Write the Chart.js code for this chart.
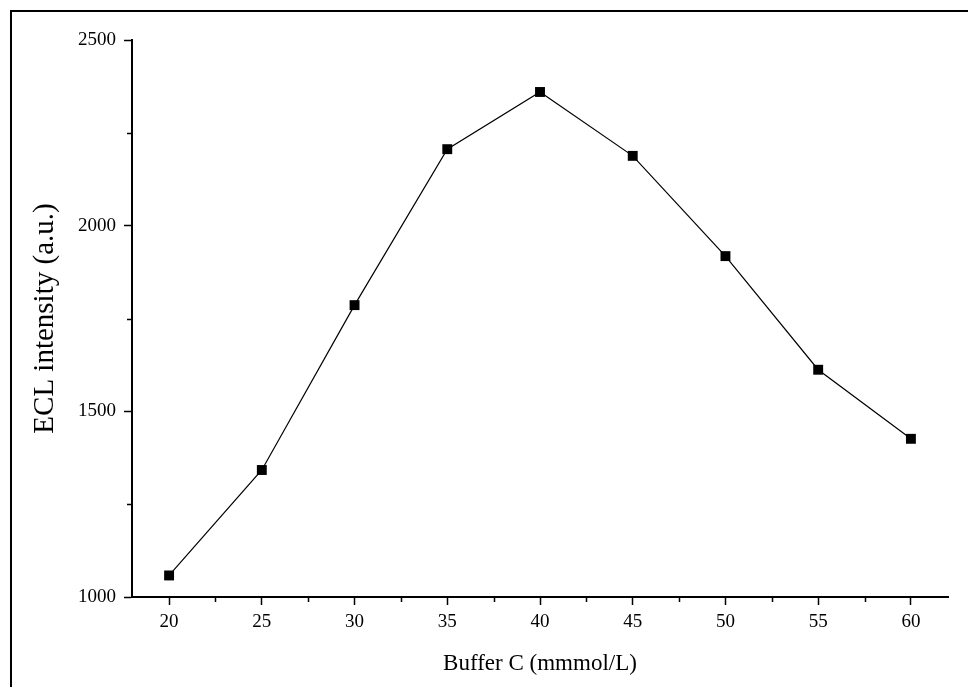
<!DOCTYPE html>
<html>
<head>
<meta charset="utf-8">
<script src="https://cdn.jsdelivr.net/npm/chart.js@4.4.1/dist/chart.umd.min.js"></script>
<style>
  html, body { margin: 0; padding: 0; background: #fff; }
  #wrap { width: 968px; height: 687px; position: relative; }
</style>
</head>
<body>
<div id="wrap"><canvas id="c" width="968" height="687"></canvas></div>
<script>
// Data
const bufferC = [20, 25, 30, 35, 40, 45, 50, 55, 60];
const eclIntensity = [1058, 1342, 1786, 2206, 2360, 2188, 1918, 1612, 1426];
const xTickValues = [20, 25, 30, 35, 40, 45, 50, 55, 60];
const xMinorValues = [22.5, 27.5, 32.5, 37.5, 42.5, 47.5, 52.5, 57.5];
const yTickValues = [1000, 1500, 2000, 2500];
const yMinorValues = [1250, 1750, 2250];
const xTitle = 'Buffer C (mmmol/L)';
const yTitle = 'ECL intensity (a.u.)';

const serif = "'Liberation Serif', 'Times New Roman', serif";

const frameAndMinor = {
  id: 'frameAndMinor',
  afterDraw(chart) {
    const ctx = chart.ctx;
    ctx.save();
    ctx.strokeStyle = '#000';
    // outer frame (top and left edges, as in the cropped reference)
    ctx.lineWidth = 2;
    ctx.beginPath();
    ctx.moveTo(11, 687);
    ctx.lineTo(11, 11);
    ctx.lineTo(968, 11);
    ctx.stroke();
    // minor ticks
    ctx.lineWidth = 1.5;
    const xs = chart.scales.x, ys = chart.scales.y;
    ctx.beginPath();
    xMinorValues.forEach(v => {
      const px = Math.round(xs.getPixelForValue(v)) + 0.5;
      ctx.moveTo(px, xs.top);
      ctx.lineTo(px, xs.top + 5);
    });
    yMinorValues.forEach(v => {
      const py = Math.round(ys.getPixelForValue(v)) + 0.5;
      ctx.moveTo(ys.right, py);
      ctx.lineTo(ys.right - 5, py);
    });
    ctx.stroke();
    ctx.restore();
  }
};

new Chart(document.getElementById('c'), {
  type: 'line',
  data: {
    datasets: [{
      data: bufferC.map((x, i) => ({ x: x, y: eclIntensity[i] })),
      borderColor: '#000',
      borderWidth: 1.2,
      backgroundColor: '#000',
      pointStyle: 'rect',
      pointRadius: 7,
      pointBorderWidth: 0,
      pointBackgroundColor: '#000',
      tension: 0
    }]
  },
  options: {
    responsive: false,
    animation: false,
    layout: { padding: { top: 40, right: 20, left: 0, bottom: 0 } },
    plugins: { legend: { display: false }, tooltip: { enabled: false } },
    scales: {
      x: {
        type: 'linear',
        min: 18, max: 62,
        afterBuildTicks: s => { s.ticks = xTickValues.map(v => ({ value: v })); },
        afterFit: s => { s.height = 90; },
        border: { display: true, color: '#000', width: 2 },
        grid: { display: true, drawOnChartArea: false, drawTicks: true, tickLength: 8, tickWidth: 1.5, tickColor: '#000' },
        ticks: { color: '#000', font: { family: serif, size: 19 }, padding: 6, maxRotation: 0, autoSkip: false,
                 callback: v => String(v) },
        title: { display: true, text: xTitle, color: '#000', font: { family: serif, size: 23 }, padding: { top: 0, bottom: 9 } }
      },
      y: {
        type: 'linear',
        min: 1000, max: 2500,
        afterBuildTicks: s => { s.ticks = yTickValues.map(v => ({ value: v })); },
        afterFit: s => { s.width = 132; },
        border: { display: true, color: '#000', width: 2 },
        grid: { display: true, drawOnChartArea: false, drawTicks: true, tickLength: 8, tickWidth: 1.5, tickColor: '#000' },
        ticks: { color: '#000', font: { family: serif, size: 19 }, padding: 8, callback: v => String(v) },
        title: { display: true, text: yTitle, color: '#000', font: { family: serif, size: 29 }, padding: { top: 28, bottom: 0 } }
      }
    }
  },
  plugins: [frameAndMinor]
});
</script>
</body>
</html>
